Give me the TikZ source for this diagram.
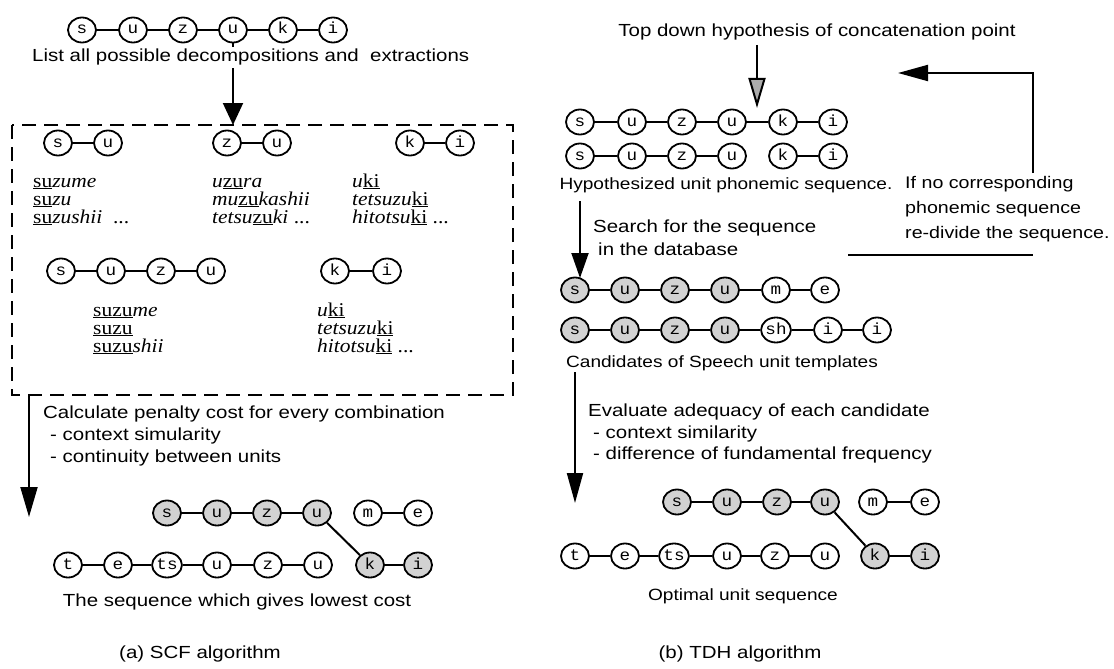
\documentclass[tikz,border=0pt]{standalone}
\usepackage{fontspec}
\setmainfont[FakeStretch=1.17]{Liberation Sans}
\newfontfamily\unitfont[FakeStretch=1.1]{Liberation Mono}
\newfontfamily\wordfont[FakeStretch=1.1]{Liberation Serif}
\usetikzlibrary{arrows.meta,shapes.geometric}
\colorlet{shade}{gray!35}
\tikzset{
 unit/.style={ellipse, draw, line width=1.8pt, minimum width=28pt, minimum height=25pt, inner sep=0pt,
   text height=8pt, text depth=0pt, font=\unitfont\fontsize{16}{16}\selectfont},
 link/.style={line width=1.5pt},
 diag/.style={line width=2pt},
 txt/.style={font=\fontsize{17.5}{20}\selectfont, inner sep=0pt},
 rtxt/.style={font=\fontsize{16.8}{20}\selectfont, inner sep=0pt},
 stxt/.style={font=\fontsize{16.3}{18}\selectfont, inner sep=0pt},
 word/.style={font=\wordfont\fontsize{19.5}{19}\selectfont, inner sep=0pt, anchor=base west},
 arr/.style={line width=2pt, -{Triangle[length=28pt,width=16pt]}},
}
\begin{document}
\begin{tikzpicture}[x=1pt,y=-1pt]
\useasboundingbox (0,0) rectangle (1114,669);

% ---------------- left panel ----------------
\foreach \n/\x/\t in {1/82/s,2/133/u,3/183/z,4/233/u,5/283/k,6/333/i}
  \node[unit] (a\n) at (\x,30) {\t};
\foreach \i/\j in {1/2,2/3,3/4,4/5,5/6} \draw[link] (a\i) -- (a\j);

\coordinate (boxNW) at (12,125);
\coordinate (boxSE) at (513,395);
\draw[line width=1.8pt, dash pattern=on 14pt off 8pt] (boxNW) rectangle (boxSE);

\draw[line width=2pt, -{Triangle[length=22pt,width=20pt]}] (a4.south) -- (a4 |- boxNW);
\node[txt, anchor=base west, fill=white, inner ysep=2pt] (listlbl) at (32,62) {List all possible decompositions and~ extractions};

% box contents
\foreach \n/\x/\t in {1/58/s,2/108/u,3/227/z,4/277/u,5/410/k,6/460/i}
  \node[unit] (b\n) at (\x,143) {\t};
\foreach \i/\j in {1/2,3/4,5/6} \draw[link] (b\i) -- (b\j);

\node[word] (w1) at (33,187) {\underline{su}\textit{zume}};
\node[word] (w2) at (33,205) {\underline{su}\textit{zu}};
\node[word] (w3) at (33,223) {\underline{su}\textit{zushii}\ \ ...};
\node[word] (w4) at (212,187) {\textit{u}\underline{zu}\textit{ra}};
\node[word] (w5) at (212,205) {\textit{mu}\underline{zu}\textit{kashii}};
\node[word] (w6) at (212,223) {\textit{tetsu}\underline{zu}\textit{ki} ...};
\node[word] (w7) at (352,187) {\textit{u}\underline{ki}};
\node[word] (w8) at (352,205) {\textit{tetsuzu}\underline{ki}};
\node[word] (w9) at (352,223) {\textit{hitotsu}\underline{ki} ...};

\foreach \n/\x/\t in {1/61/s,2/111/u,3/161/z,4/211/u,5/335/k,6/387/i}
  \node[unit] (c\n) at (\x,271) {\t};
\foreach \i/\j in {1/2,2/3,3/4,5/6} \draw[link] (c\i) -- (c\j);

\node[word] (v1) at (93,316) {\underline{suzu}\textit{me}};
\node[word] (v2) at (93,334) {\underline{suzu}};
\node[word] (v3) at (93,352) {\underline{suzu}\textit{shii}};
\node[word] (v4) at (317,316) {\textit{u}\underline{ki}};
\node[word] (v5) at (317,334) {\textit{tetsuzu}\underline{ki}};
\node[word] (v6) at (317,352) {\textit{hitotsu}\underline{ki} ...};

\coordinate (calcTop) at (29,395);
\coordinate (calcEnd) at (29,517);
\draw[arr, -{Triangle[length=30pt,width=17pt]}] (calcTop) -- (calcEnd);
\node[txt, anchor=base west] (calc1) at (43,418) {Calculate penalty cost for every combination};
\node[txt, anchor=base west] (calc2) at (50,440) {- context simularity};
\node[txt, anchor=base west] (calc3) at (50,462) {- continuity between units};

\foreach \n/\x/\t/\f in {1/167/s/shade,2/217/u/shade,3/267/z/shade,4/317/u/shade,5/368/m/white,6/418/e/white}
  \node[unit, fill=\f] (d\n) at (\x,513) {\t};
\foreach \i/\j in {1/2,2/3,3/4,5/6} \draw[link] (d\i) -- (d\j);
\foreach \n/\x/\t/\f in {1/68/t/white,2/118/e/white,3/167/ts/white,4/217/u/white,5/268/z/white,6/318/u/white,7/370/k/shade,8/418/i/shade}
  \node[unit, fill=\f] (e\n) at (\x,565) {\t};
\foreach \i/\j in {1/2,2/3,3/4,4/5,5/6,7/8} \draw[link] (e\i) -- (e\j);
\draw[diag] (d4) -- (e7);
\node[txt, anchor=base] (lowest) at (237,606) {The sequence which gives lowest cost};
\node[txt, anchor=base] (capa) at (200,658) {(a) SCF algorithm};

% ---------------- right panel ----------------
\node[txt, anchor=base] (toptxt) at (817,37) {Top down hypothesis of concatenation point};
\coordinate (cpTop) at (757,45);
\coordinate (cp) at (757,108);
\draw[line width=2pt, -{Triangle[length=30pt,width=17pt,fill=gray!65]}] (cpTop) -- (cp);

\foreach \n/\x/\t in {1/580/s,2/632/u,3/682/z,4/732/u,5/783/k,6/833/i}
  \node[unit] (r\n) at (\x,122) {\t};
\foreach \i/\j in {1/2,2/3,3/4,4/5,5/6} \draw[link] (r\i) -- (r\j);
\foreach \n/\x/\t in {1/580/s,2/632/u,3/682/z,4/732/u,5/783/k,6/833/i}
  \node[unit] (q\n) at (\x,156) {\t};
\foreach \i/\j in {1/2,2/3,3/4,5/6} \draw[link] (q\i) -- (q\j);

\node[stxt, anchor=base] (hyp) at (726,189) {Hypothesized unit phonemic sequence.};
\node[rtxt, anchor=base west] (ifno1) at (905,188) {If no corresponding};
\node[rtxt, anchor=base west] (ifno2) at (905,213) {phonemic sequence};
\node[rtxt, anchor=base west] (ifno3) at (905,238) {re-divide the sequence.};

\coordinate (fbA) at (1033,173);
\coordinate (fbC) at (898,73);
\draw[line width=2pt, -{Triangle[length=30pt,width=16pt]}] (fbA) |- (fbC);
\coordinate (fbL) at (848,255);
\coordinate (fbR) at (1033,255);
\draw[line width=1.8pt] (fbL) -- (fbR);

\node[txt, anchor=base west] (srch1) at (593,232) {Search for the sequence};
\node[txt, anchor=base west] (srch2) at (598,255) {in the database};

\foreach \n/\x/\t/\f in {1/575/s/shade,2/625/u/shade,3/675/z/shade,4/725/u/shade,5/776/m/white,6/825/e/white}
  \node[unit, fill=\f] (f\n) at (\x,290) {\t};
\foreach \i/\j in {1/2,2/3,3/4,4/5,5/6} \draw[link] (f\i) -- (f\j);
\foreach \n/\x/\t/\f in {1/575/s/shade,2/625/u/shade,3/675/z/shade,4/725/u/shade,5/776/sh/white,6/828/i/white,7/877/i/white}
  \node[unit, fill=\f] (g\n) at (\x,330) {\t};
\foreach \i/\j in {1/2,2/3,3/4,4/5,5/6,6/7} \draw[link] (g\i) -- (g\j);

\coordinate (srchTop) at (580,201);
\coordinate (srchEnd) at (580,278);
\draw[arr, -{Triangle[length=25pt,width=17pt]}] (srchTop) -- (srchEnd);

\node[stxt, anchor=base] (cand) at (722,367) {Candidates of Speech unit templates};
\coordinate (evTop) at (575,372);
\coordinate (evEnd) at (575,503);
\draw[arr, -{Triangle[length=30pt,width=16pt]}] (evTop) -- (evEnd);
\node[txt, anchor=base west] (ev1) at (588,416) {Evaluate adequacy of each candidate};
\node[txt, anchor=base west] (ev2) at (593,438) {- context similarity};
\node[txt, anchor=base west] (ev3) at (593,459) {- difference of fundamental frequency};

\foreach \n/\x/\t/\f in {1/677/s/shade,2/727/u/shade,3/777/z/shade,4/825/u/shade,5/873/m/white,6/925/e/white}
  \node[unit, fill=\f] (o\n) at (\x,502) {\t};
\foreach \i/\j in {1/2,2/3,3/4,5/6} \draw[link] (o\i) -- (o\j);
\foreach \n/\x/\t/\f in {1/575/t/white,2/625/e/white,3/674/ts/white,4/727/u/white,5/775/z/white,6/825/u/white,7/875/k/shade,8/925/i/shade}
  \node[unit, fill=\f] (p\n) at (\x,556) {\t};
\foreach \i/\j in {1/2,2/3,3/4,4/5,5/6,7/8} \draw[link] (p\i) -- (p\j);
\draw[diag] (o4) -- (p7);

\node[stxt, anchor=base] (opt) at (743,600) {Optimal unit sequence};
\node[txt, anchor=base] (capb) at (740,658) {(b) TDH algorithm};
\end{tikzpicture}
\end{document}
